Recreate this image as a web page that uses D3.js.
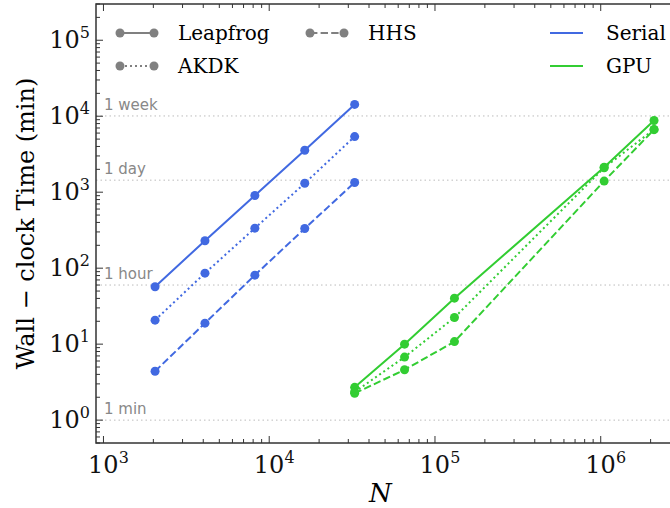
<!DOCTYPE html>
<html>
<head>
<meta charset="utf-8">
<script src="https://cdn.jsdelivr.net/npm/d3@7"></script>
<style>
  body { margin: 0; background: #fff; }
  text { font-family: "DejaVu Serif", "Liberation Serif", serif; }
</style>
</head>
<body>
<script>
// particle counts
var serialN = [2048, 4096, 8192, 16384, 32768];
var gpuN = [32768, 65536, 131072, 1048576, 2097152];

// wall-clock minutes
var serialLeapfrog = [57, 230, 905, 3570, 14300];
var serialAKDK = [20.7, 86, 336, 1310, 5400];
var serialHHS = [4.4, 18.9, 81, 333, 1340];
var gpuLeapfrog = [2.7, 10, 40.3, 2130, 8770];
var gpuAKDK = [2.35, 6.75, 22.4, 2100, 6700];
var gpuHHS = [2.25, 4.6, 10.8, 1400, 6650];

var refLines = [1, 60, 1440, 10080];
var refLabels = ["1 min", "1 hour", "1 day", "1 week"];

var xTicks = [1e3, 1e4, 1e5, 1e6];
var yTicks = [1, 10, 100, 1000, 10000, 100000];

var blue = "#4169e1", green = "#32cd32", grey = "#808080";

var W = 670, H = 508;
var pL = 96, pR = 672, pT = 4, pB = 443;   // plot box

var svg = d3.select("body").append("svg")
    .attr("width", W)
    .attr("height", H);

var x = d3.scaleLog().domain([Math.pow(10, 2.955), Math.pow(10, 6.43)]).range([pL, pR]);
var y = d3.scaleLog().domain([0.5, 3e5]).range([pB, pT]);

// reference grid lines
refLines.forEach(function(v, i) {
    svg.append("line")
        .attr("x1", pL).attr("x2", pR)
        .attr("y1", y(v)).attr("y2", y(v))
        .attr("stroke", "#bbb")
        .attr("stroke-width", 1)
        .attr("stroke-dasharray", "1.5,3");
    svg.append("text")
        .attr("x", pL + 8)
        .attr("y", y(v) - 6)
        .style("font-family", "'DejaVu Sans', sans-serif")
        .style("font-size", "15px")
        .attr("fill", "#888")
        .text(refLabels[i]);
});

// series
var dashes = { solid: null, dotted: "2,3", dashed: "7.4,3.2" };
var series = [
    {n: serialN, t: serialLeapfrog, c: blue, d: dashes.solid},
    {n: serialN, t: serialAKDK, c: blue, d: dashes.dotted},
    {n: serialN, t: serialHHS, c: blue, d: dashes.dashed},
    {n: gpuN, t: gpuLeapfrog, c: green, d: dashes.solid},
    {n: gpuN, t: gpuAKDK, c: green, d: dashes.dotted},
    {n: gpuN, t: gpuHHS, c: green, d: dashes.dashed}
];

var line = d3.line()
    .x(function(d) { return x(d[0]); })
    .y(function(d) { return y(d[1]); });

series.forEach(function(s) {
    var pts = s.n.map(function(n, i) { return [n, s.t[i]]; });
    svg.append("path")
        .attr("d", line(pts))
        .attr("fill", "none")
        .attr("stroke", s.c)
        .attr("stroke-width", 2)
        .attr("stroke-dasharray", s.d);
    svg.selectAll(null).data(pts).enter()
        .append("circle")
        .attr("cx", function(d) { return x(d[0]); })
        .attr("cy", function(d) { return y(d[1]); })
        .attr("r", 4.5)
        .attr("fill", s.c);
});

// frame
svg.append("rect")
    .attr("x", pL).attr("y", pT)
    .attr("width", pR - pL).attr("height", pB - pT)
    .attr("fill", "none")
    .attr("stroke", "#333")
    .attr("stroke-width", 1.5);

// ticks, pointing inward
function logTicks(dom) {
    var out = [];
    var lo = Math.floor(Math.log10(dom[0])), hi = Math.ceil(Math.log10(dom[1]));
    for (var e = lo; e <= hi; e++) {
        for (var m = 1; m < 10; m++) {
            var v = m * Math.pow(10, e);
            if (v >= dom[0] && v <= dom[1]) out.push({v: v, major: m === 1});
        }
    }
    return out;
}

logTicks(x.domain()).forEach(function(t) {
    var len = t.major ? 7 : 4;
    svg.append("line")
        .attr("x1", x(t.v)).attr("x2", x(t.v))
        .attr("y1", pB).attr("y2", pB - len)
        .attr("stroke", "#333").attr("stroke-width", 1);
    svg.append("line")
        .attr("x1", x(t.v)).attr("x2", x(t.v))
        .attr("y1", pT).attr("y2", pT + len)
        .attr("stroke", "#333").attr("stroke-width", 1);
});
logTicks(y.domain()).forEach(function(t) {
    var len = t.major ? 7 : 4;
    svg.append("line")
        .attr("x1", pL).attr("x2", pL + len)
        .attr("y1", y(t.v)).attr("y2", y(t.v))
        .attr("stroke", "#333").attr("stroke-width", 1);
});

// tick labels like 10^3
function powLabel(sel, v) {
    var e = Math.round(Math.log10(v));
    sel.append("tspan").text("10");
    sel.append("tspan")
        .attr("dy", -10)
        .style("font-size", "16px")
        .text(e);
}

xTicks.forEach(function(v) {
    var t = svg.append("text")
        .attr("x", x(v) + 5)
        .attr("y", pB + 30)
        .attr("text-anchor", "middle")
        .style("font-size", "24px")
        .attr("fill", "#111");
    powLabel(t, v);
});
yTicks.forEach(function(v) {
    var t = svg.append("text")
        .attr("x", pL - 6)
        .attr("y", y(v) + 8)
        .attr("text-anchor", "end")
        .style("font-size", "24px")
        .attr("fill", "#111");
    powLabel(t, v);
});

// axis titles
svg.append("text")
    .attr("x", x(Math.pow(10, 4.67)))
    .attr("y", 502)
    .attr("text-anchor", "middle")
    .style("font-size", "26px")
    .style("font-style", "italic")
    .text("N");

svg.append("text")
    .attr("transform", "translate(34," + ((pT + pB) / 2) + ") rotate(-90)")
    .attr("text-anchor", "middle")
    .style("font-size", "24px")
    .text("Wall \u2212 clock Time (min)");

// legends
var methodLegend = [
    {label: "Leapfrog", d: dashes.solid, x: 120, y: 33},
    {label: "AKDK", d: dashes.dotted, x: 120, y: 66},
    {label: "HHS", d: dashes.dashed, x: 310, y: 33}
];
methodLegend.forEach(function(m) {
    svg.append("line")
        .attr("x1", m.x).attr("x2", m.x + 34)
        .attr("y1", m.y).attr("y2", m.y)
        .attr("stroke", grey).attr("stroke-width", 2)
        .attr("stroke-dasharray", m.d);
    [m.x, m.x + 34].forEach(function(cx) {
        svg.append("circle").attr("cx", cx).attr("cy", m.y).attr("r", 4.5).attr("fill", grey);
    });
    svg.append("text")
        .attr("x", m.x + 58).attr("y", m.y + 7)
        .style("font-size", "20px")
        .text(m.label);
});

var deviceLegend = [
    {label: "Serial", c: blue, y: 33},
    {label: "GPU", c: green, y: 66}
];
deviceLegend.forEach(function(m) {
    svg.append("line")
        .attr("x1", 550).attr("x2", 583)
        .attr("y1", m.y).attr("y2", m.y)
        .attr("stroke", m.c).attr("stroke-width", 2);
    svg.append("text")
        .attr("x", 606).attr("y", m.y + 7)
        .style("font-size", "20px")
        .text(m.label);
});
</script>
</body>
</html>
